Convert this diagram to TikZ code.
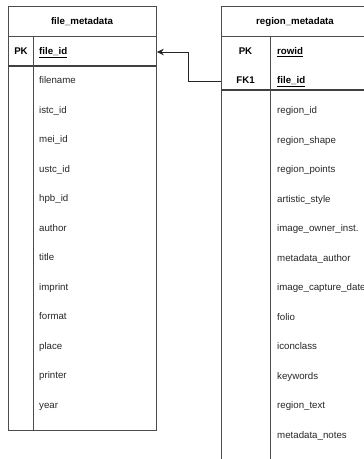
\documentclass[tikz,border=0pt]{standalone}
\usepackage{fontspec}
\setmainfont{Liberation Sans}
\usetikzlibrary{arrows.meta}

\begin{document}
\begin{tikzpicture}[x=1pt, y=-1pt,
  every node/.style={font=\fontsize{9.7}{11}\selectfont, text=black!85, text height=7pt, text depth=2pt, inner sep=0pt},
  tab/.style={draw=black!70, line width=0.8pt, anchor=north west, minimum width=148pt},
  rule/.style={draw=black!70, line width=0.8pt},
  keyrule/.style={draw=black!75, line width=1.6pt},
  head/.style={font=\fontsize{9.7}{11}\selectfont\bfseries, text=black},
  keytag/.style={font=\fontsize{9.7}{11}\selectfont\bfseries, text=black},
  keyname/.style={anchor=west, font=\fontsize{9.7}{11}\selectfont\bfseries, text=black},
  field/.style={anchor=west}]
\clip (0,0) rectangle (364,459);

% file_metadata
\node[tab, minimum height=424pt] (filetab) at (8,6) {};
\draw[rule] (8,36) -- (156,36);
\draw[keyrule] (8,66) -- (156,66);
\draw[rule] (33,36) -- (33,430);
\node[head] (filehead) at (82,22) {file\_metadata};
\node[keytag] (fpk) at (21,52) {PK};
\node[keyname] (fkey) at (39,52) {\underline{file\_id}};
\foreach \f [count=\i from 0] in {filename, istc\_id, mei\_id, ustc\_id, hpb\_id, author, title, imprint, format, place, printer, year}
  \node[field] (f\i) at (39,{81+29.5*\i}) {\f};

% region_metadata
\node[tab, minimum height=480pt] (regtab) at (221,6) {};
\draw[rule] (221,36) -- (369,36);
\draw[keyrule] (221,90) -- (369,90);
\draw[rule] (270,36) -- (270,486);
\node[head] (reghead) at (295,22) {region\_metadata};
\node[keytag] (rpk) at (245.5,52) {PK};
\node[keytag] (rfk) at (245.5,81) {FK1};
\node[keyname] (rkey) at (277,52) {\underline{rowid}};
\node[keyname] (rfkey) at (277,81) {\underline{file\_id}};
\foreach \f [count=\i from 0] in {region\_id, region\_shape, region\_points, artistic\_style, image\_owner\_inst., metadata\_author, image\_capture\_date, folio, iconclass, keywords, region\_text, metadata\_notes}
  \node[field] (r\i) at (277,{111+29.5*\i}) {\f};

\draw[black!85, line width=0.9pt, -{Stealth[length=7pt, width=6.5pt]}] (regtab.west |- rfk) -- ++(-32.5,0) |- (filetab.east |- fpk);
\end{tikzpicture}
\end{document}
